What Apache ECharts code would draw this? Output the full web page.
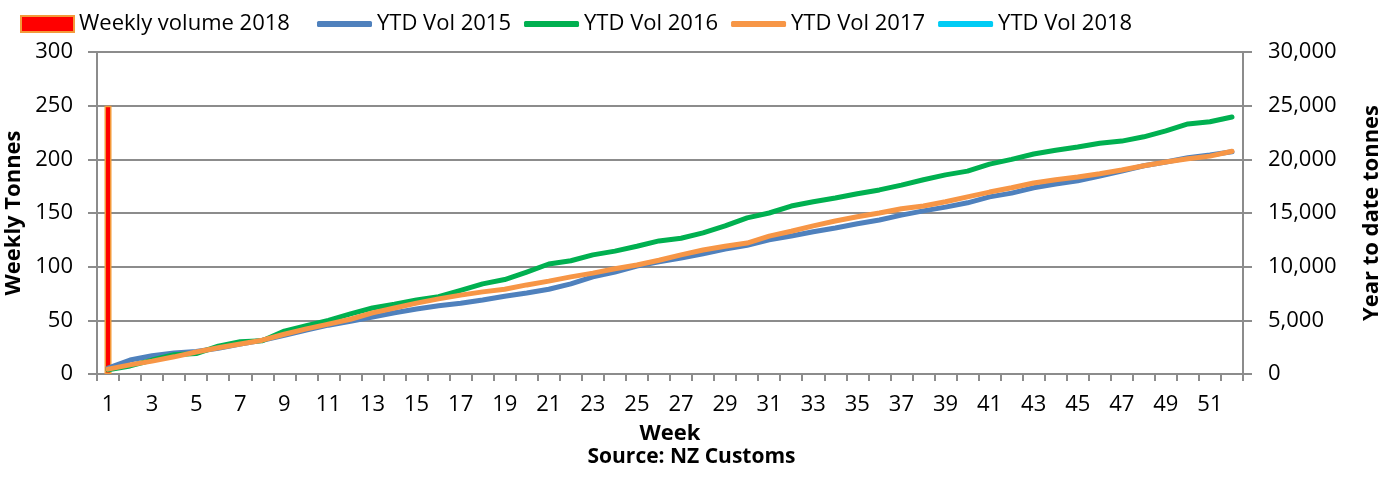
<!DOCTYPE html>
<html>
<head>
<meta charset="utf-8">
<script src="https://cdn.jsdelivr.net/npm/echarts@6/dist/echarts.min.js"></script>
<style>
  html, body { margin: 0; padding: 0; background: #fff; }
  #chart { width: 1383px; height: 477px; }
</style>
</head>
<body>
<div id="chart"></div>
<script>
var weeks = [];
for (var w = 1; w <= 52; w++) weeks.push(String(w));

// weekly tonnes, 2018 (only week 1 so far)
var weekly2018 = [250];

// year to date tonnes
var ytd2015 = [550, 1300, 1700, 1950, 2100, 2400, 2800, 3150, 3600, 4100,
  4550, 4900, 5300, 5700, 6050, 6350, 6600, 6900, 7250, 7550,
  7900, 8400, 9050, 9500, 10050, 10450, 10800, 11200, 11650, 12000,
  12500, 12850, 13250, 13600, 14000, 14350, 14800, 15200, 15550, 15950,
  16500, 16850, 17350, 17700, 18000, 18450, 18900, 19400, 19750, 20150,
  20400, 20700];
var ytd2016 = [400, 750, 1300, 1800, 1900, 2600, 3000, 3100, 4000, 4500,
  5000, 5600, 6150, 6500, 6900, 7200, 7800, 8400, 8800, 9500,
  10250, 10550, 11100, 11450, 11900, 12400, 12650, 13150, 13800, 14550,
  15000, 15650, 16050, 16400, 16800, 17150, 17600, 18100, 18550, 18900,
  19550, 20000, 20500, 20850, 21150, 21500, 21700, 22100, 22650, 23300,
  23500, 23950];
var ytd2017 = [450, 850, 1200, 1600, 2050, 2450, 2800, 3150, 3700, 4200,
  4650, 5100, 5700, 6150, 6600, 7000, 7350, 7650, 7900, 8300,
  8650, 9050, 9400, 9800, 10150, 10600, 11100, 11550, 11900, 12200,
  12850, 13300, 13800, 14250, 14650, 15000, 15400, 15650, 16050, 16500,
  16950, 17350, 17800, 18100, 18350, 18650, 19000, 19400, 19750, 20050,
  20300, 20750];
var ytd2018 = [250];

var font = '"Open Sans", "Liberation Sans", sans-serif';
var axisGray = '#8c8c8c';
var fs = 22;

function lineSeries(name, data, color) {
  return {
    name: name,
    type: 'line',
    yAxisIndex: 1,
    data: data,
    symbol: 'none',
    lineStyle: { width: 5, color: color, cap: 'round', join: 'round' },
    itemStyle: { color: color }
  };
}

var chart = echarts.init(document.getElementById('chart'));
chart.setOption({
  animation: false,
  textStyle: { fontFamily: font },
  legend: [{
    left: 15,
    top: 8,
    icon: 'rect',
    itemWidth: 53,
    itemHeight: 16,
    textStyle: { fontSize: fs, color: '#000', fontFamily: font },
    data: ['Weekly volume 2018']
  }, {
    left: 312,
    top: 8,
    icon: 'roundRect',
    itemGap: 13,
    itemWidth: 55,
    itemHeight: 6,
    textStyle: { fontSize: fs, color: '#000', fontFamily: font },
    data: ['YTD Vol 2015', 'YTD Vol 2016', 'YTD Vol 2017', 'YTD Vol 2018']
  }],
  grid: { left: 97, right: 140, top: 52, bottom: 103, containLabel: false, outerBoundsMode: 'none' },
  xAxis: {
    type: 'category',
    data: weeks,
    boundaryGap: true,
    name: 'Week',
    nameLocation: 'middle',
    nameGap: 49,
    nameTextStyle: { fontSize: fs, fontWeight: 'bold', color: '#000' },
    axisLine: { lineStyle: { color: axisGray, width: 2 } },
    axisTick: { show: true, alignWithLabel: false, interval: 0, length: 7, lineStyle: { color: axisGray, width: 2 } },
    axisLabel: { interval: 1, fontSize: fs, color: '#000', margin: 20 }
  },
  yAxis: [{
    type: 'value',
    min: 0, max: 300, interval: 50,
    name: 'Weekly Tonnes',
    nameLocation: 'middle',
    nameGap: 67,
    nameRotate: 90,
    nameTextStyle: { fontSize: fs, fontWeight: 'bold', color: '#000' },
    axisLine: { show: true, lineStyle: { color: axisGray, width: 2 } },
    axisTick: { show: true, length: 9, lineStyle: { color: axisGray, width: 2 } },
    axisLabel: { fontSize: fs, color: '#000', margin: 24 },
    splitLine: { lineStyle: { color: axisGray, width: 2 } }
  }, {
    type: 'value',
    min: 0, max: 30000, interval: 5000,
    name: 'Year to date tonnes',
    nameLocation: 'middle',
    nameGap: 118,
    nameRotate: 90,
    nameTextStyle: { fontSize: fs, fontWeight: 'bold', color: '#000' },
    axisLine: { show: true, lineStyle: { color: axisGray, width: 2 } },
    axisTick: { show: true, length: 9, lineStyle: { color: axisGray, width: 2 } },
    axisLabel: {
      fontSize: fs, color: '#000', margin: 25,
      formatter: function (v) { return v.toLocaleString('en-US'); }
    },
    splitLine: { show: false }
  }],
  graphic: [{
    type: 'text',
    left: 'center',
    top: 447,
    style: { text: 'Source: NZ Customs', fontSize: 21, fontWeight: 'bold', fill: '#000', fontFamily: font }
  }],
  series: [{
    name: 'Weekly volume 2018',
    type: 'bar',
    data: weekly2018,
    barWidth: 7,
    itemStyle: { color: '#ff0000', borderColor: '#f39a3a', borderWidth: 1.5 }
  },
    lineSeries('YTD Vol 2015', ytd2015, '#4f81bd'),
    lineSeries('YTD Vol 2016', ytd2016, '#00b050'),
    lineSeries('YTD Vol 2017', ytd2017, '#f79646'),
    lineSeries('YTD Vol 2018', ytd2018, '#00ccf5')
  ]
});
</script>
</body>
</html>
